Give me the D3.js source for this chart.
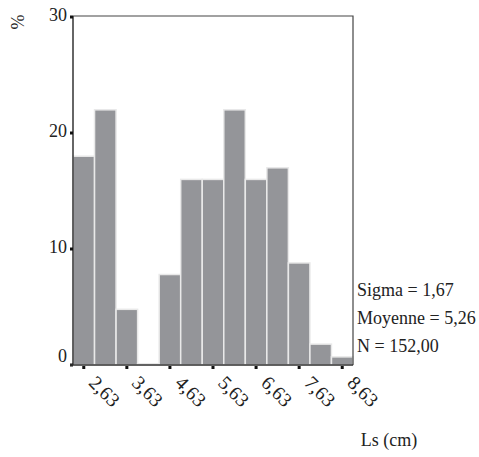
<!DOCTYPE html>
<html>
<head>
<meta charset="utf-8">
<script src="https://cdn.jsdelivr.net/npm/d3@7"></script>
<style>
  body { margin: 0; background: #fff; }
  text { font-family: "Liberation Serif", "Times New Roman", serif; fill: #222; }
</style>
</head>
<body>
<svg id="canvas"></svg>
<script>
let width = 479;
let height = 457;

// bin centres (cm) and percentages
let binCentres = [2.63, 3.13, 3.63, 4.13, 4.63, 5.13, 5.63, 6.13, 6.63, 7.13, 7.63, 8.13, 8.63];
let percents = [18, 22, 4.8, 0.1, 7.8, 16, 16, 22, 16, 17, 8.8, 1.8, 0.7];
let xTickValues = [2.63, 3.63, 4.63, 5.63, 6.63, 7.63, 8.63];
let yTickValues = [0, 10, 20, 30];
let statLines = ["Sigma = 1,67", "Moyenne = 5,26", "N = 152,00"];
let binWidth = 0.5;

let plotLeft = 73, plotRight = 353, plotTop = 16, plotBottom = 365;

let svg = d3.select('#canvas')
  .attr("width", width)
  .attr("height", height);

let x = d3.scaleLinear()
  .domain([binCentres[0] - binWidth / 2, binCentres[binCentres.length - 1] + binWidth / 2])
  .range([plotLeft, plotRight]);

let y = d3.scaleLinear()
  .domain([0, 30])
  .range([plotBottom, plotTop + 1]);

// bars
svg.selectAll("rect.bar")
  .data(binCentres)
  .enter()
  .append("rect")
  .attr("class", "bar")
  .attr("x", (d) => x(d - binWidth / 2))
  .attr("width", (d) => x(d + binWidth / 2) - x(d - binWidth / 2))
  .attr("y", (d, i) => y(percents[i]))
  .attr("height", (d, i) => y(0) - y(percents[i]))
  .attr("fill", "#949599")
  .attr("stroke", "#e9e9e9")
  .attr("stroke-width", 1.5);

// frame (top and right)
svg.append("path")
  .attr("d", "M" + plotLeft + "," + plotTop + "H" + plotRight + "V" + plotBottom)
  .attr("fill", "none")
  .attr("stroke", "#444")
  .attr("stroke-width", 1.2);

// y axis
svg.append("line")
  .attr("x1", plotLeft).attr("x2", plotLeft)
  .attr("y1", plotTop).attr("y2", plotBottom)
  .attr("stroke", "#333").attr("stroke-width", 1.5);

svg.selectAll("rect.ytick")
  .data(yTickValues)
  .enter()
  .append("rect")
  .attr("class", "ytick")
  .attr("x", plotLeft - 3)
  .attr("y", (d) => y(d) - 1.5)
  .attr("width", 3)
  .attr("height", 3)
  .attr("fill", "#111");

svg.selectAll("text.ylab")
  .data(yTickValues)
  .enter()
  .append("text")
  .attr("class", "ylab")
  .attr("x", plotLeft - 6)
  .attr("y", (d) => d === 0 ? y(d) - 3 : y(d) + 4)
  .attr("text-anchor", "end")
  .attr("font-size", 18)
  .text((d) => d);

// x axis
svg.append("line")
  .attr("x1", plotLeft - 3).attr("x2", plotRight)
  .attr("y1", plotBottom).attr("y2", plotBottom)
  .attr("stroke", "#333").attr("stroke-width", 1.5);

svg.selectAll("rect.xtick")
  .data(xTickValues)
  .enter()
  .append("rect")
  .attr("class", "xtick")
  .attr("x", (d) => x(d) - 1.5)
  .attr("y", plotBottom + 1)
  .attr("width", 3)
  .attr("height", 3)
  .attr("fill", "#111");

svg.selectAll("text.xlab")
  .data(xTickValues)
  .enter()
  .append("text")
  .attr("class", "xlab")
  .attr("transform", (d) => "translate(" + (x(d) + 4) + "," + (plotBottom + 19) + ") rotate(45)")
  .attr("font-size", 19.5)
  .text((d) => d3.format(".2f")(d).replace(".", ","));

// stats
svg.selectAll("text.stat")
  .data(statLines)
  .enter()
  .append("text")
  .attr("class", "stat")
  .attr("x", plotRight + 4)
  .attr("y", (d, i) => 296 + i * 28)
  .attr("font-size", 18)
  .text((d) => d);

// axis titles
svg.append("text")
  .attr("transform", "translate(24,22) rotate(-90)")
  .attr("text-anchor", "middle")
  .attr("font-size", 18)
  .text("%");

svg.append("text")
  .attr("x", 389)
  .attr("y", 446)
  .attr("text-anchor", "middle")
  .attr("font-size", 18)
  .text("Ls (cm)");
</script>
</body>
</html>
